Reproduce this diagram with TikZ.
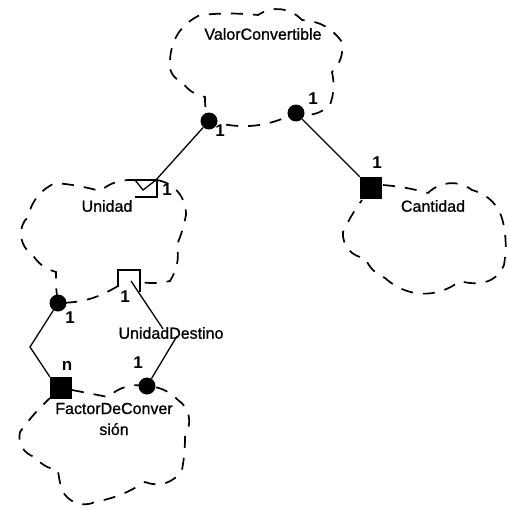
\documentclass[tikz,border=0pt]{standalone}
\usepackage{fontspec}
\setmainfont{Liberation Sans}
\newfontfamily\heavyfont{Liberation Sans}[FakeBold=0.9]
\begin{document}
\begin{tikzpicture}[x=1pt,y=-1pt,
  cloud/.style={draw, dash pattern=on 12pt off 10pt, line width=1.7pt},
  lbl/.style={font=\heavyfont\fontsize{16}{21}\selectfont, inner sep=0pt},
  mult/.style={font=\fontsize{17}{18}\selectfont\bfseries, inner sep=0pt},
  conn/.style={line width=1.3pt},
  dotc/.style={circle, fill=black, minimum size=17pt, inner sep=0pt},
  sq/.style={fill=black, minimum width=22pt, minimum height=22pt, inner sep=0pt},
  bl/.style={bend left=#1}]
\useasboundingbox (0,0) rectangle (507,511);

% clouds
\draw[cloud] (170,60) to[bl=30] (200,15) to[bl=5] (258,15) to[bl=40] (302,20)
  to[bl=25] (342,42) to[bl=25] (332,72) to[bl=15] (330,105) to[bl=30] (296,113)
  to[bl=20] (209,121) to[bl=10] (205,97) to[bl=20] (182,82) to[bl=40] (170,60);

\draw[cloud] (118,286) to[bl=15] (58,303) to[bl=5] (56,272) to[bl=20] (32,254)
  to[bl=55] (28,217) to[bl=25] (55,183) to[bl=5] (100,191) to[bl=20] (135,180);
\draw[cloud] (157,180) to[bl=40] (186,215) to[bl=5] (177,245) to[bl=20] (170,281)
  to[bl=10] (140,282);

\draw[cloud] (383,185) to[bl=5] (428,193) to[bl=40] (472,190) to[bl=30] (503,222)
  to[bl=10] (504,265) to[bl=30] (480,283) to[bl=10] (460,281) to[bl=40] (385,278)
  to[bl=20] (365,258) to[bl=45] (343,232) to[bl=5] (362,200);

\draw[cloud] (72,390) to[bl=0] (108,397) to[bl=25] (147,386) to[bl=20] (178,400)
  to[bl=45] (185,435) to[bl=5] (182,470) to[bl=40] (145,482) to[bl=10] (95,502)
  to[bl=45] (62,490) to[bl=5] (58,470) to[bl=20] (35,457) to[bl=45] (20,432)
  to[bl=5] (50,398);

% class names
\node[lbl] (vc) at (263,34) {ValorConvertible};
\node[lbl] (un) at (107,206) {Unidad};
\node[lbl] (ca) at (433,206) {Cantidad};
\node[lbl] (ud) at (171,333) {UnidadDestino};
\node[lbl, align=center] (fc) at (114,419) {FactorDeConver\\sión};

% adornments
\node[dotc] (d1) at (209,121) {};
\node[dotc] (d2) at (296,113) {};
\node[dotc] (d3) at (58,303) {};
\node[dotc] (d4) at (147,386) {};
\node[sq] (s1) at (371,188) {};
\node[sq] (s2) at (61,388) {};

% open triangle + box at Unidad
\draw[conn] (135,180) -- (157,180) -- (157,197) -- (135,197);
\draw[conn] (135,180) -- (143,190) -- (156,180);
% open box for UnidadDestino
\draw[conn] (118,287) -- (118,270) -- (140,270) -- (140,292);

% connectors
\coordinate (t1) at (155,181);
\coordinate (b2) at (131,281);
\coordinate (k) at (30,347);
\draw[conn] (d1) -- (t1);
\draw[conn] (d2) -- (s1.north west);
\draw[conn] (d3) -- (k) -- (s2.north west);
\draw[conn] (b2) -- ([xshift=-8pt,yshift=-2pt]ud.north);
\draw[conn] (d4) -- ([xshift=6pt,yshift=3pt]ud.south);

% multiplicities
\node[mult] (m1) at (220,131) {1};
\node[mult] (m2) at (313,99) {1};
\node[mult] (m3) at (377,163) {1};
\node[mult] (m4) at (167,190) {1};
\node[mult] (m5) at (70,318) {1};
\node[mult] (m6) at (125,297) {1};
\node[mult] (m7) at (138,363) {1};
\node[mult] (m8) at (67,366) {n};
\end{tikzpicture}
\end{document}
